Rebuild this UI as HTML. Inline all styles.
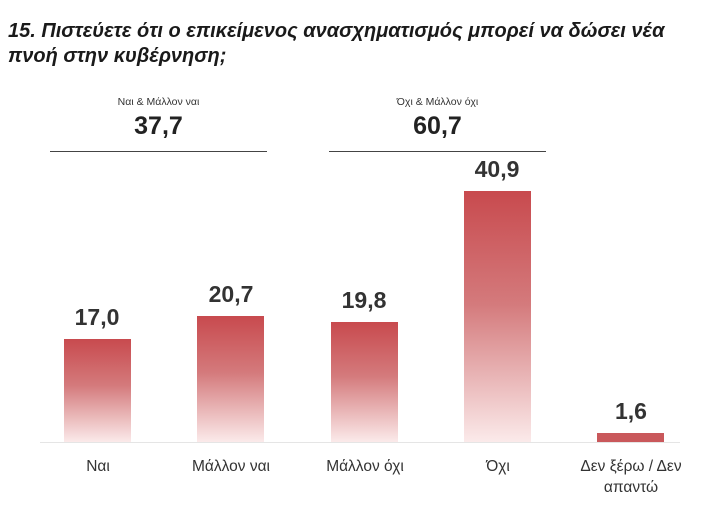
<!DOCTYPE html>
<html><head><meta charset="utf-8"><style>
body{margin:0;width:720px;height:513px;background:#fff;font-family:"Liberation Sans","DejaVu Sans",sans-serif;position:relative;overflow:hidden;color:#222}
.t{position:absolute;left:8px;top:19px;font-size:20px;font-weight:bold;font-style:italic;line-height:25px;color:#1a1a1a;white-space:nowrap}
.a{position:absolute;text-align:center;width:217px}
.s{font-size:10.5px;color:#333}
.b{font-size:25px;font-weight:bold}
.ln{position:absolute;height:1px;background:#444;top:151px}
.bar{position:absolute;width:67px;background:linear-gradient(#c84a4e,#d47a7c 45%,#fbeaea)}
.v{position:absolute;width:100px;text-align:center;font-size:23px;font-weight:bold;color:#333}
.c{position:absolute;width:150px;text-align:center;font-size:15.5px;color:#333;line-height:21px}
.base{position:absolute;left:40px;width:640px;top:442px;height:1px;background:#e5e5e5}
</style></head><body>
<div class="t">15. Πιστεύετε ότι ο επικείμενος ανασχηματισμός μπορεί να δώσει νέα<br>πνοή στην κυβέρνηση;</div>
<div class="a s" style="left:50px;top:96px">Ναι &amp; Μάλλον ναι</div>
<div class="a b" style="left:50px;top:112px">37,7</div>
<div class="ln" style="left:50px;width:217px"></div>
<div class="a s" style="left:329px;top:96px">Όχι &amp; Μάλλον όχι</div>
<div class="a b" style="left:329px;top:112px">60,7</div>
<div class="ln" style="left:329px;width:217px"></div>
<div class="base"></div>
<div class="bar" style="left:64px;top:339px;height:103px"></div>
<div class="bar" style="left:197px;top:316px;height:126px"></div>
<div class="bar" style="left:331px;top:322px;height:120px"></div>
<div class="bar" style="left:464px;top:191px;height:251px"></div>
<div class="bar" style="left:597px;top:433px;height:9px;background:#c9585b"></div>
<div class="v" style="left:47px;top:304px">17,0</div>
<div class="v" style="left:181px;top:281px">20,7</div>
<div class="v" style="left:314px;top:287px">19,8</div>
<div class="v" style="left:447px;top:156px">40,9</div>
<div class="v" style="left:581px;top:398px">1,6</div>
<div class="c" style="left:23px;top:456px">Ναι</div>
<div class="c" style="left:156px;top:456px">Μάλλον ναι</div>
<div class="c" style="left:290px;top:456px">Μάλλον όχι</div>
<div class="c" style="left:423px;top:456px">Όχι</div>
<div class="c" style="left:556px;top:456px">Δεν ξέρω / Δεν<br>απαντώ</div>
</body></html>
